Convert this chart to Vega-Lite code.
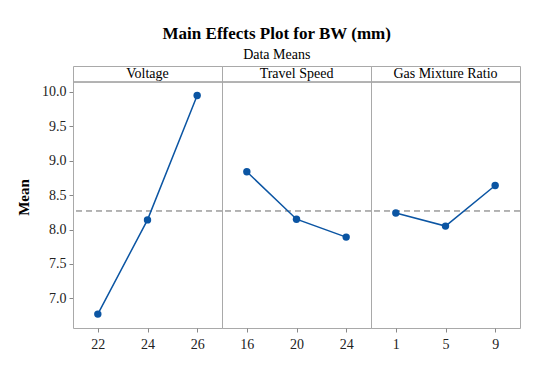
{
  "$schema": "https://vega.github.io/schema/vega-lite/v6.json",
  "padding": {"left": 16, "top": 24, "right": 10, "bottom": 10},
  "background": "white",
  "bounds": "flush",
  "title": {
    "text": "Main Effects Plot for BW (mm)",
    "subtitle": "Data Means",
    "font": "Liberation Serif",
    "fontSize": 17,
    "fontWeight": "bold",
    "color": "black",
    "subtitleFont": "Liberation Serif",
    "subtitleFontSize": 14,
    "subtitleColor": "black",
    "subtitlePadding": 5,
    "anchor": "middle",
    "frame": "bounds",
    "dx": 8,
    "offset": 3
  },
  "data": {
    "values": [
      {"factor": "Voltage", "level": 22, "mean": 6.77},
      {"factor": "Voltage", "level": 24, "mean": 8.14},
      {"factor": "Voltage", "level": 26, "mean": 9.95},
      {"factor": "Travel Speed", "level": 16, "mean": 8.84},
      {"factor": "Travel Speed", "level": 20, "mean": 8.15},
      {"factor": "Travel Speed", "level": 24, "mean": 7.89},
      {"factor": "Gas Mixture Ratio", "level": 1, "mean": 8.24},
      {"factor": "Gas Mixture Ratio", "level": 5, "mean": 8.05},
      {"factor": "Gas Mixture Ratio", "level": 9, "mean": 8.64}
    ]
  },
  "facet": {
    "column": {
      "field": "factor",
      "type": "nominal",
      "sort": ["Voltage", "Travel Speed", "Gas Mixture Ratio"],
      "header": {"title": null, "labels": false}
    }
  },
  "spacing": {"column": 0, "row": 0},
  "resolve": {"scale": {"x": "independent"}},
  "spec": {
    "width": 149,
    "height": 262,
    "layer": [
      {
        "mark": {"type": "rule", "color": "#a9a9a9", "strokeDash": [6, 4], "strokeWidth": 1},
        "encoding": {"y": {"datum": 8.27, "type": "quantitative"}}
      },
      {
        "mark": {"type": "rule", "color": "#a9a9a9", "strokeWidth": 1},
        "encoding": {"y": {"datum": 10.145, "type": "quantitative"}}
      },
      {
        "transform": [
          {"aggregate": [{"op": "median", "field": "level", "as": "level"}], "groupby": ["factor"]}
        ],
        "mark": {"type": "text", "font": "Liberation Serif", "fontSize": 14, "color": "black", "baseline": "middle"},
        "encoding": {
          "x": {"field": "level", "type": "ordinal", "axis": {"title": null, "labelFont": "Liberation Serif"}},
          "y": {"datum": 10.262, "type": "quantitative"},
          "text": {"field": "factor"}
        }
      },
      {
        "mark": {"type": "line", "color": "#0b55a3", "strokeWidth": 1.5,
                 "point": {"filled": true, "size": 55, "color": "#0b55a3"}},
        "encoding": {
          "x": {"field": "level", "type": "ordinal", "sort": "ascending",
                "scale": {"type": "point", "padding": 0.5},
                "axis": {"title": null, "labelFont": "Liberation Serif"}},
          "y": {"field": "mean", "type": "quantitative",
                "scale": {"domain": [6.568, 10.378], "nice": false, "zero": false},
                "axis": {"title": "Mean", "labelFont": "Liberation Serif", "values": [7, 7.5, 8, 8.5, 9, 9.5, 10], "format": ".1f"}}
        }
      }
    ]
  },
  "config": {
    "font": "Liberation Serif",
    "view": {"stroke": "#a9a9a9", "strokeWidth": 1},
    "facet": {"spacing": 0},
    "style": {"guide-label": {"font": "Liberation Serif"}, "guide-title": {"font": "Liberation Serif"}},
    "axis": {
      "grid": false,
      "domain": false,
      "tickColor": "#888888",
      "tickSize": 4,
      "labelFont": "Liberation Serif",
      "labelFontSize": 14,
      "labelColor": "#222222",
      "labelPadding": 3,
      "titleFont": "Liberation Serif",
      "titleFontSize": 15,
      "titleFontWeight": "bold",
      "titleColor": "black",
      "titlePadding": 10
    },
    "axisX": {"labelAngle": 0, "labelPadding": 5}
  }
}
